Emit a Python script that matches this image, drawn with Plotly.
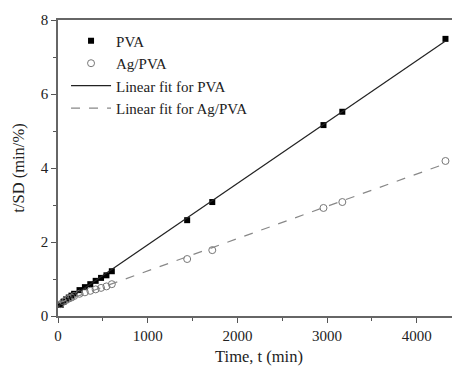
import numpy as np
import plotly.graph_objects as go

# Data
time_min = [30, 60, 90, 120, 150, 180, 240, 300, 360, 420, 480, 540, 600,
            1440, 1720, 2960, 3170, 4320]
pva_tsd = [0.30, 0.38, 0.45, 0.50, 0.55, 0.60, 0.70, 0.78, 0.86, 0.95, 1.03, 1.10, 1.21,
           2.59, 3.08, 5.16, 5.52, 7.49]
agpva_tsd = [0.32, 0.39, 0.43, 0.47, 0.50, 0.54, 0.60, 0.64, 0.68, 0.72, 0.76, 0.80, 0.86,
             1.54, 1.78, 2.92, 3.08, 4.19]

x_ticks = [0, 1000, 2000, 3000, 4000]
y_ticks = [0, 2, 4, 6, 8]

# Linear fits derived from the data
p_pva = np.polyfit(time_min, pva_tsd, 1)
p_ag = np.polyfit(time_min, agpva_tsd, 1)
fit_x = np.array([0, max(time_min)])

fig = go.Figure()
fig.add_trace(go.Scatter(x=time_min, y=pva_tsd, mode="markers", name="PVA",
                         marker=dict(symbol="square", size=6, color="black")))
fig.add_trace(go.Scatter(x=time_min, y=agpva_tsd, mode="markers", name="Ag/PVA",
                         marker=dict(symbol="circle-open", size=7, color="#777777",
                                     line=dict(width=1))))
fig.add_trace(go.Scatter(x=fit_x, y=np.polyval(p_pva, fit_x), mode="lines",
                         name="Linear fit for PVA", line=dict(color="#222222", width=1.2)))
fig.add_trace(go.Scatter(x=fit_x, y=np.polyval(p_ag, fit_x), mode="lines",
                         name="Linear fit for Ag/PVA",
                         line=dict(color="#888888", width=1.2, dash="dash")))

font = dict(family="Liberation Serif, Times New Roman, serif", size=15, color="#222222")
fig.update_layout(
    width=452, height=361,
    margin=dict(l=50, r=0, t=12, b=53),
    plot_bgcolor="white", paper_bgcolor="white",
    font=font,
    showlegend=True,
    legend=dict(x=0.02, y=0.985, xanchor="left", yanchor="top",
                bgcolor="rgba(0,0,0,0)", font=dict(size=15),
                tracegroupgap=0, itemwidth=40),
    xaxis=dict(range=[0, 4482], tickvals=x_ticks, ticks="outside", ticklen=5,
               tickcolor="#555555", showline=True, linecolor="#666666", linewidth=1.5,
               mirror=True, showgrid=False, zeroline=False,
               tickfont=dict(size=15),
               minor=dict(ticks="outside", ticklen=3, dtick=500, tickcolor="#555555"),
               title=dict(text="Time, t (min)", standoff=8, font=dict(size=16.5))),
    yaxis=dict(range=[0, 8], tickvals=y_ticks, ticks="outside", ticklen=5,
               tickcolor="#555555", showline=True, linecolor="#666666", linewidth=1.5,
               showgrid=False, zeroline=False,
               tickfont=dict(size=15),
               minor=dict(ticks="outside", ticklen=3, dtick=1, tickcolor="#555555"),
               title=dict(text="t/SD (min/%)", standoff=12, font=dict(size=16.5))),
)

fig.write_html("out.html")
